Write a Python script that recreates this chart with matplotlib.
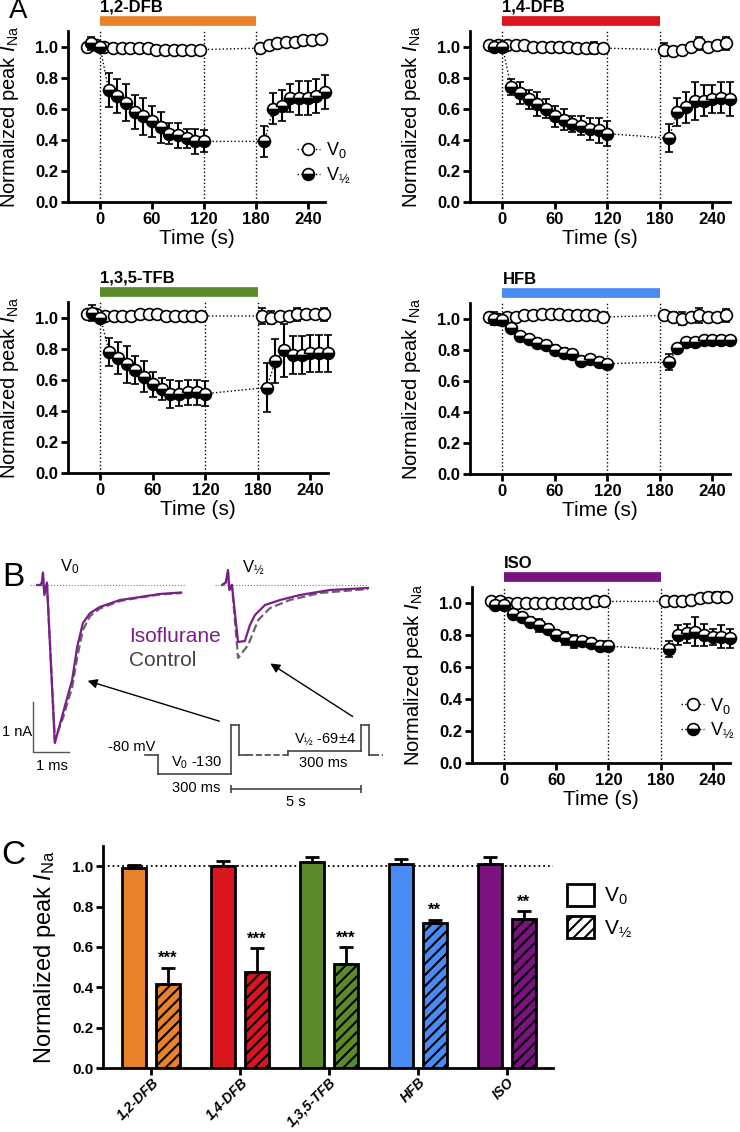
import matplotlib
matplotlib.use('Agg')
import matplotlib.pyplot as plt
import numpy as np
from matplotlib.lines import Line2D
from matplotlib.patches import Patch
from matplotlib.transforms import blended_transform_factory
from matplotlib.ticker import FormatStrFormatter

plt.rcParams['font.family'] = ['Liberation Sans', 'DejaVu Sans']
plt.rcParams['mathtext.fontset'] = 'custom'
plt.rcParams['mathtext.rm'] = 'Liberation Sans'
plt.rcParams['mathtext.it'] = 'Liberation Sans:italic'
plt.rcParams['mathtext.bf'] = 'Liberation Sans:bold'
plt.rcParams['mathtext.default'] = 'regular'
plt.rcParams['hatch.linewidth'] = 1.5

# ---- panel A / B time courses ----
t_v0 = [-15, -5, 5, 15, 25, 35, 45, 55, 65, 75, 85, 95, 105, 115,
        185, 195, 205, 215, 225, 235, 245, 255]
t_vh = [-10, 0, 10, 20, 30, 40, 50, 60, 70, 80, 90, 100, 110, 120,
        190, 200, 210, 220, 230, 240, 250, 260]

dfb12_v0 = [1.00, 1.01, 1.00, 0.99, 0.99, 0.99, 0.99, 0.99, 0.98, 0.98, 0.98, 0.98, 0.98, 0.98,
            0.99, 1.01, 1.02, 1.03, 1.03, 1.04, 1.04, 1.05]
dfb12_v0_err = [0.01, 0.01, 0.01, 0.01, 0.01, 0.01, 0.01, 0.01, 0.01, 0.01, 0.01, 0.01, 0.01, 0.01,
                0.01, 0.01, 0.01, 0.01, 0.01, 0.01, 0.01, 0.01]
dfb12_vh = [1.02, 1.00, 0.72, 0.68, 0.64, 0.58, 0.55, 0.52, 0.48, 0.44, 0.43, 0.41, 0.39, 0.39,
            0.39, 0.60, 0.62, 0.67, 0.67, 0.67, 0.68, 0.71]
dfb12_vh_err = [0.04, 0.01, 0.11, 0.11, 0.12, 0.11, 0.12, 0.10, 0.10, 0.07, 0.08, 0.06, 0.08, 0.07,
                0.10, 0.10, 0.10, 0.09, 0.11, 0.11, 0.11, 0.11]

dfb14_v0 = [1.01, 1.01, 1.01, 1.01, 1.01, 1.00, 1.00, 1.00, 1.00, 1.00, 0.99, 0.99, 0.99, 0.99,
            0.98, 0.97, 0.98, 1.00, 1.02, 1.00, 1.01, 1.02]
dfb14_v0_err = [0.01, 0.01, 0.01, 0.01, 0.01, 0.01, 0.01, 0.01, 0.01, 0.01, 0.01, 0.01, 0.04, 0.02,
                0.04, 0.03, 0.02, 0.01, 0.04, 0.01, 0.02, 0.04]
dfb14_vh = [1.00, 1.00, 0.74, 0.70, 0.66, 0.63, 0.60, 0.55, 0.53, 0.50, 0.49, 0.47, 0.46, 0.44,
            0.41, 0.58, 0.61, 0.65, 0.65, 0.66, 0.67, 0.66]
dfb14_vh_err = [0.01, 0.01, 0.05, 0.07, 0.06, 0.08, 0.06, 0.07, 0.07, 0.05, 0.06, 0.07, 0.08, 0.08,
                0.09, 0.09, 0.10, 0.12, 0.10, 0.09, 0.10, 0.11]

tfb135_v0 = [1.02, 1.02, 1.01, 1.01, 1.01, 1.01, 1.02, 1.02, 1.02, 1.01, 1.01, 1.01, 1.01, 1.01,
             1.01, 1.00, 1.01, 1.01, 1.02, 1.02, 1.02, 1.02]
tfb135_v0_err = [0.02, 0.01, 0.01, 0.01, 0.01, 0.01, 0.01, 0.01, 0.01, 0.01, 0.01, 0.01, 0.01, 0.01,
                 0.05, 0.04, 0.02, 0.02, 0.04, 0.02, 0.02, 0.04]
tfb135_vh = [1.03, 1.00, 0.78, 0.74, 0.70, 0.66, 0.62, 0.57, 0.54, 0.51, 0.51, 0.52, 0.52, 0.51,
             0.55, 0.72, 0.79, 0.76, 0.76, 0.77, 0.77, 0.77]
tfb135_vh_err = [0.05, 0.01, 0.09, 0.10, 0.12, 0.09, 0.10, 0.08, 0.07, 0.09, 0.08, 0.08, 0.08, 0.08,
                 0.16, 0.14, 0.17, 0.12, 0.12, 0.12, 0.12, 0.12]

hfb_v0 = [1.01, 1.00, 1.01, 1.01, 1.02, 1.02, 1.03, 1.03, 1.03, 1.02, 1.02, 1.02, 1.02, 1.01,
          1.02, 1.01, 1.00, 1.01, 1.02, 1.01, 1.01, 1.02]
hfb_v0_err = [0.02, 0.01, 0.01, 0.01, 0.01, 0.01, 0.01, 0.01, 0.01, 0.01, 0.01, 0.01, 0.01, 0.01,
              0.03, 0.03, 0.04, 0.02, 0.05, 0.02, 0.02, 0.04]
hfb_vh = [1.00, 0.99, 0.94, 0.89, 0.87, 0.84, 0.83, 0.80, 0.78, 0.77, 0.73, 0.74, 0.72, 0.71,
          0.72, 0.81, 0.85, 0.85, 0.86, 0.86, 0.86, 0.86]
hfb_vh_err = [0.04, 0.02, 0.01, 0.01, 0.02, 0.03, 0.02, 0.03, 0.03, 0.02, 0.01, 0.02, 0.02, 0.02,
              0.05, 0.02, 0.02, 0.02, 0.02, 0.03, 0.03, 0.03]

iso_v0 = [1.01, 1.01, 1.00, 1.00, 1.00, 1.00, 1.00, 1.00, 1.00, 1.00, 1.00, 1.00, 1.01, 1.01,
          1.01, 1.01, 1.01, 1.02, 1.03, 1.04, 1.04, 1.04]
iso_v0_err = [0.01, 0.03, 0.01, 0.01, 0.01, 0.01, 0.01, 0.01, 0.01, 0.01, 0.03, 0.01, 0.03, 0.03,
              0.01, 0.01, 0.01, 0.01, 0.01, 0.01, 0.03, 0.03]
iso_vh = [0.99, 0.99, 0.93, 0.91, 0.88, 0.86, 0.84, 0.80, 0.78, 0.76, 0.76, 0.75, 0.73, 0.73,
          0.71, 0.80, 0.81, 0.82, 0.80, 0.79, 0.79, 0.78]
iso_vh_err = [0.02, 0.02, 0.01, 0.02, 0.03, 0.04, 0.03, 0.03, 0.04, 0.04, 0.03, 0.03, 0.03, 0.03,
              0.05, 0.06, 0.06, 0.09, 0.07, 0.05, 0.07, 0.06]

# ---- panel B current traces (ms, nA) ----
v0_iso_t = [0.2, 0.3, 0.33, 0.36, 0.4, 0.47, 0.69, 0.92, 1.17, 1.31, 1.47, 1.67, 1.94, 2.5, 3.06, 3.6, 4.2]
v0_iso_i = [0, 0, 0.05, 0.25, -0.2, 0.05, -3.16, -2.55, -1.9, -1.24, -0.76, -0.56, -0.44, -0.3, -0.24, -0.18, -0.15]
v0_ctl_t = [0.2, 0.3, 0.33, 0.36, 0.4, 0.47, 0.69, 0.92, 1.17, 1.31, 1.47, 1.67, 1.94, 2.5, 3.06, 3.6, 4.2]
v0_ctl_i = [0, 0, 0.05, 0.2, -0.2, 0.05, -3.1, -2.65, -2.05, -1.45, -0.9, -0.62, -0.47, -0.32, -0.25, -0.19, -0.16]
vh_iso_t = [0.2, 0.3, 0.36, 0.4, 0.47, 0.64, 0.83, 0.97, 1.11, 1.39, 1.81, 2.36, 3.19, 4.25]
vh_iso_i = [0, 0.05, 0.3, -0.1, 0, -1.14, -1.12, -0.8, -0.6, -0.4, -0.3, -0.2, -0.1, -0.06]
vh_ctl_t = [0.2, 0.3, 0.36, 0.4, 0.47, 0.64, 0.92, 1.2, 1.53, 2.08, 2.92, 4.25]
vh_ctl_i = [0, 0.05, 0.25, -0.1, 0, -1.46, -1.2, -0.7, -0.46, -0.3, -0.16, -0.08]

# voltage protocol: level (mV), drawn width, dashed?
prot_mv = [-80, -130, 0, -80, -80, -69, 0, -80, -80]
prot_w = [13, 73, 8, 8, 41, 73, 8, 4, 10]
prot_dash = [False, False, False, False, True, False, False, False, True]

# ---- panel C ----
compounds = ['1,2-DFB', '1,4-DFB', '1,3,5-TFB', 'HFB', 'ISO']
colors = ['#E8822A', '#DA151D', '#5B8A2B', '#4A8AF4', '#7A127F']
v0_mean = [0.99, 1.00, 1.02, 1.01, 1.01]
v0_sem = [0.017, 0.027, 0.025, 0.027, 0.036]
vh_mean = [0.415, 0.478, 0.515, 0.718, 0.74]
vh_sem = [0.08, 0.115, 0.083, 0.017, 0.036]
stars = ['***', '***', '***', '**', '**']

W, H = 740, 1132
fig = plt.figure(figsize=(W / 100, H / 100), dpi=100)


def add_ax(x0, y0, x1, y1):
    return fig.add_axes([x0 / W, 1 - y1 / H, (x1 - x0) / W, (y1 - y0) / H])


def ftext(x, y, s, **kw):
    fig.text(x / W, 1 - y / H, s, **kw)


YLAB = 'Normalized peak $\\mathit{I}_{\\mathrm{Na}}$'
mk_open = dict(marker='o', ms=8.5, mfc='white', mec='k', mew=1.2)
mk_half = dict(marker='o', ms=8.5, mfc='k', mfcalt='white', fillstyle='bottom', mec='k', mew=1.2)


def style_axes(ax, tick_size=12):
    for s in ['top', 'right']:
        ax.spines[s].set_visible(False)
    for s in ['left', 'bottom']:
        ax.spines[s].set_linewidth(2)
    ax.tick_params(width=2, length=5, labelsize=tick_size, pad=2)
    for lab in ax.get_xticklabels() + ax.get_yticklabels():
        lab.set_fontweight('bold')


def time_panel(box, name, color, v0, v0e, vh, vhe, legend=None):
    x0, y0, x1, y1 = box
    ax = add_ax(*box)
    w, h = x1 - x0, y1 - y0
    ax.set_xlim(-37, 260)
    ax.set_ylim(0, 1.1)
    for xv in [0, 120, 180]:
        ax.axvline(xv, color='k', ls=':', lw=1, zorder=1)
    ax.errorbar(t_v0, v0, yerr=v0e, color='k', ls=':', lw=1, ecolor='k', elinewidth=1.5,
                capsize=3, capthick=1.5, clip_on=False, zorder=3, **mk_open)
    ax.errorbar(t_vh, vh, yerr=vhe, color='k', ls=':', lw=1, ecolor='k', elinewidth=1.5,
                capsize=3, capthick=1.5, clip_on=False, zorder=4, **mk_half)
    tr = blended_transform_factory(ax.transData, ax.transAxes)
    ax.plot([0, 180], [1 + 10 / h, 1 + 10 / h], color=color, lw=7, solid_capstyle='butt',
            transform=tr, clip_on=False)
    ax.text(0, 1 + 24 / h, name, transform=tr, fontsize=12, fontweight='bold', va='center', ha='left')
    ax.set_xticks([0, 60, 120, 180, 240])
    ax.set_yticks([0, 0.2, 0.4, 0.6, 0.8, 1.0])
    ax.yaxis.set_major_formatter(FormatStrFormatter('%.1f'))
    style_axes(ax)
    ax.set_ylabel(YLAB, fontsize=14.5)
    ax.yaxis.set_label_coords(-47 / w, 0.5)
    ax.set_xlabel('Time (s)', fontsize=15)
    ax.xaxis.set_label_coords(0.5, -27 / h)
    if legend is not None:
        hs = [Line2D([], [], color='k', ls=':', lw=1, **mk_open),
              Line2D([], [], color='k', ls=':', lw=1, **mk_half)]
        ax.legend(hs, ['V$_0$', 'V$_{½}$'], loc='lower left', bbox_to_anchor=legend,
                  frameon=False, fontsize=13, handlelength=1.3, handletextpad=0.3,
                  labelspacing=0.3, borderpad=0, borderaxespad=0)
    return ax


time_panel((68, 31, 325, 202), '1,2-DFB', colors[0], dfb12_v0, dfb12_v0_err, dfb12_vh, dfb12_vh_err,
           legend=(0.89, 0.1))
time_panel((470, 31, 730, 202), '1,4-DFB', colors[1], dfb14_v0, dfb14_v0_err, dfb14_vh, dfb14_vh_err)
time_panel((68, 302, 328, 473), '1,3,5-TFB', colors[2], tfb135_v0, tfb135_v0_err, tfb135_vh, tfb135_vh_err)
time_panel((470, 303, 730, 474), 'HFB', colors[3], hfb_v0, hfb_v0_err, hfb_vh, hfb_vh_err)
time_panel((472, 587, 730, 763), 'ISO', colors[4], iso_v0, iso_v0_err, iso_vh, iso_vh_err,
           legend=(0.81, 0.13))

# ---- panel B traces ----
purple = '#7B1E8A'
axL = add_ax(0, 560, 190, 810)
axL.set_xlim(-0.833, 4.444)
axL.set_ylim(-4.5, 0.5)
axL.axis('off')
axL.plot([0, 4.3], [0, 0], color='#777777', ls=':', lw=0.8)
axL.plot(v0_ctl_t, v0_ctl_i, color='#666666', ls='--', lw=1.6)
axL.plot(v0_iso_t, v0_iso_i, color=purple, lw=1.6)
axL.plot([0.083, 0.083, 1.083], [-2.34, -3.34, -3.34], color='#555555', lw=1)

axR = add_ax(200, 560, 380, 810)
axR.set_xlim(-0.417, 4.583)
axR.set_ylim(-4.5, 0.5)
axR.axis('off')
axR.plot([0, 4.25], [0, 0], color='#777777', ls=':', lw=0.8)
axR.plot(vh_ctl_t, vh_ctl_i, color='#666666', ls='--', lw=1.6)
axR.plot(vh_iso_t, vh_iso_i, color=purple, lw=1.6)

axP = add_ax(140, 715, 385, 805)
axP.set_xlim(0, 245)
axP.set_ylim(-211.6, 25.3)
axP.axis('off')
xpos = 5
prev = None
for mv, wd, dsh in zip(prot_mv, prot_w, prot_dash):
    if prev is not None and prev != mv:
        axP.plot([xpos, xpos], [prev, mv], color='#444444', lw=1.2)
    axP.plot([xpos, xpos + wd], [mv, mv], color='#444444', lw=1.2, ls='--' if dsh else '-')
    prev = mv
    xpos += wd
pulse_starts = np.cumsum([5] + prot_w)[[2, 6]]
axP.plot(pulse_starts, [-169.5, -169.5], color='#444444', lw=1.2, marker='|', ms=6, mew=1.2)

ftext(17, 732, '1 nA', fontsize=10.5, ha='center', va='center')
ftext(52, 766, '1 ms', fontsize=10.5, ha='center', va='center')
ftext(70, 567, 'V$_0$', fontsize=12, ha='center', va='center')
ftext(253, 567, 'V$_{½}$', fontsize=12, ha='center', va='center')
ftext(129, 636, 'Isoflurane', fontsize=15, color=purple, ha='left', va='center')
ftext(129, 660, 'Control', fontsize=15, color='#444444', ha='left', va='center')
ftext(155, 747, '-80 mV', fontsize=10.5, ha='right', va='center')
ftext(196, 763, 'V$_0$ -130', fontsize=10.5, ha='center', va='center')
ftext(196, 788, '300 ms', fontsize=10.5, ha='center', va='center')
ftext(325, 740, 'V$_{½}$ -69±4', fontsize=10.5, ha='center', va='center')
ftext(323, 763, '300 ms', fontsize=10.5, ha='center', va='center')
ftext(296, 802, '5 s', fontsize=10.5, ha='center', va='center')
fig.add_artist(plt.Annotation('', xy=(85, H - 680), xytext=(222, H - 722), xycoords='figure pixels',
                              textcoords='figure pixels',
                              arrowprops=dict(arrowstyle='-|>', color='k', lw=1, mutation_scale=14)))
fig.add_artist(plt.Annotation('', xy=(268, H - 662), xytext=(355, H - 718), xycoords='figure pixels',
                              textcoords='figure pixels',
                              arrowprops=dict(arrowstyle='-|>', color='k', lw=1, mutation_scale=14)))

# ---- panel C ----
axC = add_ax(103, 846, 553, 1068)
x = np.arange(len(compounds))
axC.axhline(1.0, color='k', ls=':', lw=1.3, zorder=0)
axC.bar(x - 0.19, v0_mean, 0.27, color=colors, edgecolor='k', lw=2,
        yerr=[np.zeros(5), v0_sem], error_kw=dict(ecolor='k', elinewidth=2, capsize=5, capthick=2))
axC.bar(x + 0.19, vh_mean, 0.27, color=colors, edgecolor='k', lw=2, hatch='///',
        yerr=[np.zeros(5), vh_sem], error_kw=dict(ecolor='k', elinewidth=2, capsize=5, capthick=2))
for xi, m, s, st in zip(x, vh_mean, vh_sem, stars):
    axC.text(xi + 0.19, m + s + 0.01, st, ha='center', va='bottom', fontsize=12, fontweight='bold')
axC.set_xlim(-0.54, 4.52)
axC.set_ylim(0, 1.1)
axC.set_xticks(x)
axC.set_xticklabels(compounds, rotation=45, ha='right', rotation_mode='anchor')
axC.set_yticks([0, 0.2, 0.4, 0.6, 0.8, 1.0])
axC.yaxis.set_major_formatter(FormatStrFormatter('%.1f'))
style_axes(axC, tick_size=11)
axC.tick_params(axis='x', length=5, pad=0)
for lab in axC.get_xticklabels():
    lab.set_fontsize(10)
    lab.set_fontstyle('italic')
axC.set_ylabel(YLAB, fontsize=17)
axC.yaxis.set_label_coords(-45 / 450, 0.5)
hs = [Patch(facecolor='white', edgecolor='k', lw=2),
      Patch(facecolor='white', edgecolor='k', lw=2, hatch='///')]
axC.legend(hs, ['V$_0$', 'V$_{½}$'], loc='upper left', bbox_to_anchor=(1.03, 0.83), frameon=False,
           fontsize=15, handlelength=1.3, handleheight=1.3, handletextpad=0.5, labelspacing=0.4,
           borderpad=0, borderaxespad=0)

ftext(18, 11, 'A', fontsize=20, ha='center', va='center')
ftext(13, 578, 'B', fontsize=24, ha='center', va='center')
ftext(13, 855, 'C', fontsize=24, ha='center', va='center')

fig.savefig('out.png', dpi=100)
